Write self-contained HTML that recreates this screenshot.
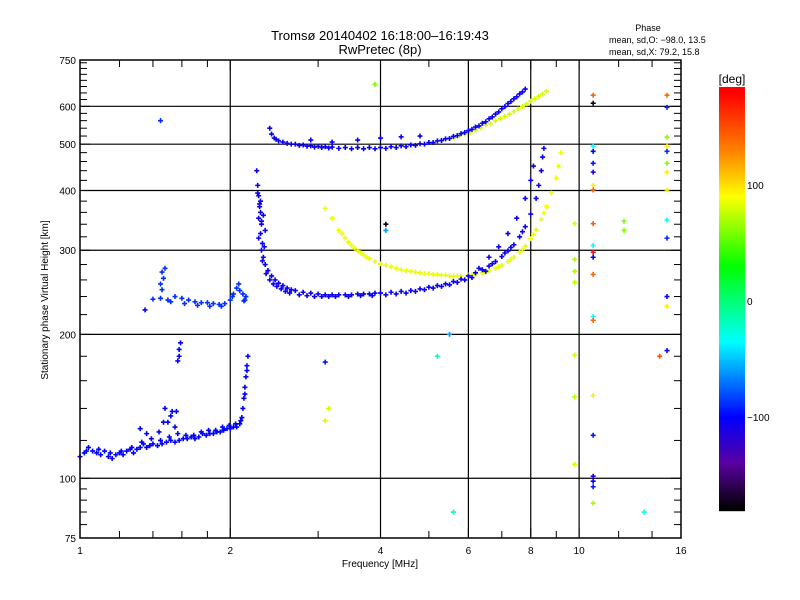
<!DOCTYPE html>
<html><head><meta charset="utf-8"><style>
html,body{margin:0;padding:0;background:#fff;}
svg{display:block;font-family:"Liberation Sans",sans-serif;}
</style></head><body>
<svg id="chart" width="800" height="600" viewBox="0 0 800 600" xmlns="http://www.w3.org/2000/svg">
<rect width="800" height="600" fill="#fff"/>
<text x="380" y="40" font-size="13" text-anchor="middle">Tromsø 20140402 16:18:00–16:19:43</text>
<text x="380" y="54" font-size="13" text-anchor="middle">RwPretec (8p)</text>
<text x="648" y="31" font-size="9" text-anchor="middle">Phase</text>
<text x="609" y="43" font-size="9">mean, sd,O: −98.0, 13.5</text>
<text x="609" y="55" font-size="9">mean, sd,X:  79.2, 15.8</text>
<text x="380" y="567" font-size="10" text-anchor="middle">Frequency [MHz]</text>
<text transform="translate(48,300) rotate(-90)" font-size="10" text-anchor="middle">Stationary phase Virtual Height [km]</text>
<g id="grid"></g>
<g id="marks"></g>
<g id="axes"></g>
<g id="cbar"></g>
</svg>
<script>
// ---- data ----
const xTicks=[1,2,4,6,8,10,16];
const xMinor=[1.2,1.4,1.6,1.8,3,5,7,9,12,14];
const xGrid=[2,4,6,8,10];
const yTicks=[75,100,200,300,400,500,600,750];
const yGrid=[100,200,300,400,500,600];
const yMinor=[80,85,90,95,120,140,160,180,220,240,260,280,320,340,360,380,420,440,460,480,520,540,560,580,620,640,660,680,700,720,740];
const cbTicks=[100,0,-100];
// traces: frequency (MHz), virtual height (km), phase (deg)
const traceAFreq=[1.00,1.02,1.04,1.06,1.08,1.10,1.12,1.14,1.16,1.18,1.20,1.22,1.24,1.26,1.28,1.30,1.32,1.34,1.36,1.38,1.40,1.43,1.46,1.49,1.52,1.55,1.58,1.61,1.64,1.67,1.70,1.73,1.76,1.79,1.82,1.85,1.88,1.91,1.94,1.97,2.00,2.03,2.06,2.09,2.11,2.12,2.13,2.14,2.15,2.16,2.17,1.32,1.36,1.50,1.52,1.55,1.48,1.56,1.58,1.58,1.59,1.57,1.03,1.09,1.15,1.21,1.27,1.33,1.39,1.45,1.51,1.57,1.63,1.69,1.75,1.81,1.87,1.93,1.99,2.05,2.10,2.14,2.16,1.44,1.47,1.53];
const traceAHeight=[111,113,116,114,113,112,114,111,110,112,113,112,114,115,113,115,116,118,116,117,118,117,118,119,120,119,120,121,121,122,121,122,124,123,124,124,125,125,126,127,127,128,128,130,134,140,147,155,163,172,180,127,124,131,135,128,140,138,180,186,192,176,114,115,113,114,116,119,121,120,122,124,123,123,125,126,126,128,129,130,132,150,168,125,131,138];
const traceBFreq=[1.40,1.45,1.50,1.55,1.60,1.65,1.70,1.75,1.80,1.85,1.90,1.95,2.00,2.03,2.06,2.09,2.12,2.15,2.13,1.45,1.47,1.46,1.48,1.46,1.52,1.62,1.72,1.82,1.92,2.02,2.08,2.14];
const traceBHeight=[237,238,236,240,238,236,234,233,233,232,231,232,236,243,250,247,243,240,235,255,262,270,275,248,234,232,230,229,229,240,255,236];
const traceCFreq=[2.26,2.27,2.28,2.29,2.30,2.28,2.31,2.30,2.32,2.31,2.33,2.35,2.38,2.42,2.46,2.5,2.55,2.6,2.65,2.7,2.8,2.9,3.0,3.1,3.2,3.3,3.4,3.5,3.6,3.7,3.8,3.9,4.0,4.2,4.4,4.6,4.8,5.0,5.2,5.4,5.6,5.8,6.0,6.2,6.4,6.6,6.8,7.0,7.2,7.4,7.6,7.8,8.0,8.2,8.3,8.4,8.45,8.5,6.3,6.6,6.9,7.2,7.5,7.8,8.0,8.1,2.27,2.29,2.33,2.31,2.35,2.28,2.34,2.32,2.36,2.30,2.40,2.44,2.48,2.53,2.58,2.63,2.75,2.85,2.95,3.05,3.15,3.25,3.45,3.65,3.85,4.1,4.3,4.5,4.7,4.9,5.1,5.3,5.5,5.7,5.9,6.1,6.5,6.7,7.1,7.3,7.7];
const traceCHeight=[440,410,390,375,360,350,340,325,310,300,290,280,272,265,260,256,253,250,248,247,245,244,243,242,242,242,242,242,243,243,243,244,244,245,246,247,249,251,253,255,258,261,265,269,273,278,284,291,299,308,320,336,357,385,410,440,470,490,275,290,305,325,350,385,420,450,395,370,355,345,330,318,305,285,268,380,260,255,252,249,246,244,242,241,240,240,240,240,240,241,241,242,243,244,246,248,250,252,254,257,260,263,271,281,296,304,328];
const traceDFreq=[3.1,3.2,3.3,3.4,3.5,3.6,3.7,3.8,3.9,4.0,4.2,4.4,4.6,4.8,5.0,5.2,5.4,5.6,5.8,6.0,6.2,6.4,6.6,6.8,7.0,7.2,7.4,7.6,7.8,8.0,8.2,8.4,8.6,8.8,9.0,9.1,9.2,3.35,3.45,3.55,3.65,3.75,4.1,4.3,4.5,4.7,4.9,5.1,5.3,5.5,5.7,6.1,6.5,6.9,7.3,7.7,8.1,8.5];
const traceDHeight=[367,350,330,318,307,299,293,288,284,281,277,273,271,269,268,267,266,265,265,266,267,269,272,275,279,284,290,297,306,317,331,348,370,395,425,450,480,325,312,303,296,290,279,275,272,270,268,267,266,265,265,266,270,277,287,301,324,359];
const traceEFreq=[2.40,2.42,2.45,2.5,2.55,2.6,2.7,2.8,2.9,3.0,3.1,3.2,3.4,3.6,3.8,4.0,4.2,4.4,4.6,4.8,5.0,5.2,5.4,5.6,5.8,6.0,6.2,6.4,6.6,6.8,7.0,7.2,7.4,7.6,7.8,2.9,3.2,3.6,4.0,4.4,4.8,2.47,2.65,2.75,2.85,2.95,3.05,3.15,3.3,3.5,3.7,3.9,4.1,4.3,4.5,4.7,4.9,5.1,5.3,5.5,5.7,5.9,6.1,6.3,6.5,6.7,6.9,7.1,7.3,7.5,7.7];
const traceEHeight=[540,525,515,508,505,502,500,498,496,495,494,493,492,492,492,492,494,496,498,501,504,508,513,519,526,534,543,553,565,578,593,608,622,637,652,510,505,510,515,518,520,512,500,497,495,493,492,491,490,489,489,489,490,492,494,497,500,504,509,514,521,529,537,546,557,570,584,599,614,628,643];
const traceFFreq=[5.6,5.9,6.2,6.5,6.8,7.1,7.4,7.7,8.0,8.3,8.6,5.75,6.05,6.35,6.65,6.95,7.25,7.55,7.85,8.15,8.45];
const traceFHeight=[515,525,535,548,560,572,585,600,615,630,645,520,530,541,552,565,578,592,607,622,637];
const traceAPhase=-100, traceBPhase=-88, traceCPhase=-105, traceDPhase=85, traceEPhase=-105, traceFPhase=80;
const scatterFreq=[10.67,10.67,10.67,10.67,10.67,10.67,10.67,10.67,10.67,10.67,10.67,10.67,10.67,10.67,10.67,10.67,10.67,10.67,10.67,10.67,10.67,15,15,15,15,15,15,15,15,15,15,15,15,15,9.8,9.8,9.8,9.8,9.8,9.8,9.8,1.45,1.35,3.1,3.15,3.1,3.9,5.5,5.6,5.2,4.1,4.1,13.5,14.5,12.3,12.3];
const scatterHeight=[633,609,495,483,456,437,410,401,341,307,297,290,267,218,214,149,123,101,98.6,96,88.7,633,597,517,495,483,456,437,401,347,318,240,229,185,341,287,271,257,181,148,107,560,225,175,140,132,667,200,85,180,330,340,85,180,345,330];
const scatterPhase=[140,-175,-35,-100,-95,-110,95,140,145,-35,175,-100,140,-35,140,95,-95,-110,-100,-95,70,140,-90,60,95,-90,60,95,95,-35,-90,-105,95,-105,80,70,70,75,80,75,80,-90,-100,-95,80,80,60,-60,-20,-20,-60,-175,-30,150,60,60];
// ---- scales ----
const X0=80,X1=681,Y0=60,Y1=538;
const fx=f=>X0+(X1-X0)*Math.log2(f)/4;
const fy=h=>Y1-(Y1-Y0)*Math.log10(h/75);
const NS="http://www.w3.org/2000/svg";
function mk(tag,parent){const e=document.createElementNS(NS,tag);parent.appendChild(e);return e;}
const stops=[[180,[255,0,0]],[130,[255,128,0]],[90,[255,255,0]],[30,[0,255,0]],[-35,[0,255,255]],[-100,[0,0,255]],[-140,[90,0,160]],[-180,[0,0,0]]];
function pcol(p){for(let i=0;i<stops.length-1;i++){const[a,ca]=stops[i],[b,cb]=stops[i+1];if(p<=a&&p>=b){const t=(a-p)/(a-b);return `rgb(${ca.map((v,k)=>Math.round(v+(cb[k]-v)*t)).join(',')})`;}}return p>180?'rgb(255,0,0)':'rgb(0,0,0)';}
const grid=document.getElementById('grid'),axes=document.getElementById('axes'),marks=document.getElementById('marks'),cbar=document.getElementById('cbar');
xGrid.forEach(v=>{const l=mk('line',grid);l.setAttribute('x1',fx(v));l.setAttribute('x2',fx(v));l.setAttribute('y1',Y0);l.setAttribute('y2',Y1);l.setAttribute('stroke','#000');l.setAttribute('stroke-width','1.2');

});
yGrid.forEach(v=>{const l=mk('line',grid);l.setAttribute('x1',X0);l.setAttribute('x2',X1);l.setAttribute('y1',fy(v));l.setAttribute('y2',fy(v));l.setAttribute('stroke','#000');l.setAttribute('stroke-width','1.2');

});
function plot(fs,hs,ps,name){fs.forEach((f,i)=>{const p=Array.isArray(ps)?ps[i]:ps;const x=fx(f),y=fy(hs[i]);const g=mk('path',marks);g.setAttribute('d',`M${x-2.5},${y}h5M${x},${y-2.5}v5`);g.setAttribute('stroke',pcol(p));g.setAttribute('stroke-width','1.6');

});}
plot(traceAFreq,traceAHeight,traceAPhase,'e-layer-point');
plot(traceBFreq,traceBHeight,traceBPhase,'f1-layer-point');
plot(traceDFreq,traceDHeight,traceDPhase,'x-mode-point');
plot(traceFFreq,traceFHeight,traceFPhase,'x-mode-upper-point');
plot(traceCFreq,traceCHeight,traceCPhase,'o-mode-point');
plot(traceEFreq,traceEHeight,traceEPhase,'o-mode-upper-point');
plot(scatterFreq,scatterHeight,scatterPhase,'scatter-point');
// axes box
const box=mk('rect',axes);box.setAttribute('x',X0);box.setAttribute('y',Y0);box.setAttribute('width',X1-X0);box.setAttribute('height',Y1-Y0);box.setAttribute('fill','none');box.setAttribute('stroke','#000');box.setAttribute('stroke-width','1.5');


function tick(x1,y1,x2,y2){const l=mk('line',axes);l.setAttribute('x1',x1);l.setAttribute('y1',y1);l.setAttribute('x2',x2);l.setAttribute('y2',y2);l.setAttribute('stroke','#000');

}
xTicks.concat(xMinor).forEach(v=>{const x=fx(v),len=xTicks.includes(v)?10:7;tick(x,Y1,x,Y1-len);tick(x,Y0,x,Y0+len);});
yTicks.concat(yMinor).forEach(v=>{const y=fy(v),len=yTicks.includes(v)?10:7;tick(X0,y,X0+len,y);tick(X1,y,X1-len,y);});
xTicks.forEach(v=>{const t=mk('text',axes);t.setAttribute('x',fx(v));t.setAttribute('y',Y1+16);t.setAttribute('font-size','10');t.setAttribute('text-anchor','middle');t.textContent=v;

});
yTicks.forEach(v=>{const t=mk('text',axes);t.setAttribute('x',X0-4);t.setAttribute('y',fy(v)+4);t.setAttribute('font-size','10');t.setAttribute('text-anchor','end');t.textContent=v;

});
// colorbar
const CB0=87,CB1=511,cbx=719,cbw=26;
const pY=p=>301-p*1.16;
for(let y=CB0;y<CB1;y++){const r=mk('rect',cbar);r.setAttribute('x',cbx);r.setAttribute('y',y);r.setAttribute('width',cbw);r.setAttribute('height',1.2);r.setAttribute('fill',pcol((301-y-0.5)/1.16));

}
const ct=mk('text',cbar);ct.setAttribute('x',cbx+cbw/2);ct.setAttribute('y',83);ct.setAttribute('font-size','12');ct.setAttribute('text-anchor','middle');ct.textContent='[deg]';


cbTicks.forEach(v=>{const t=mk('text',cbar);t.setAttribute('x',cbx+cbw+2);t.setAttribute('y',pY(v)+4);t.setAttribute('font-size','10');t.textContent=v<0?'−'+(-v):v;

});
</script>
</body></html>
